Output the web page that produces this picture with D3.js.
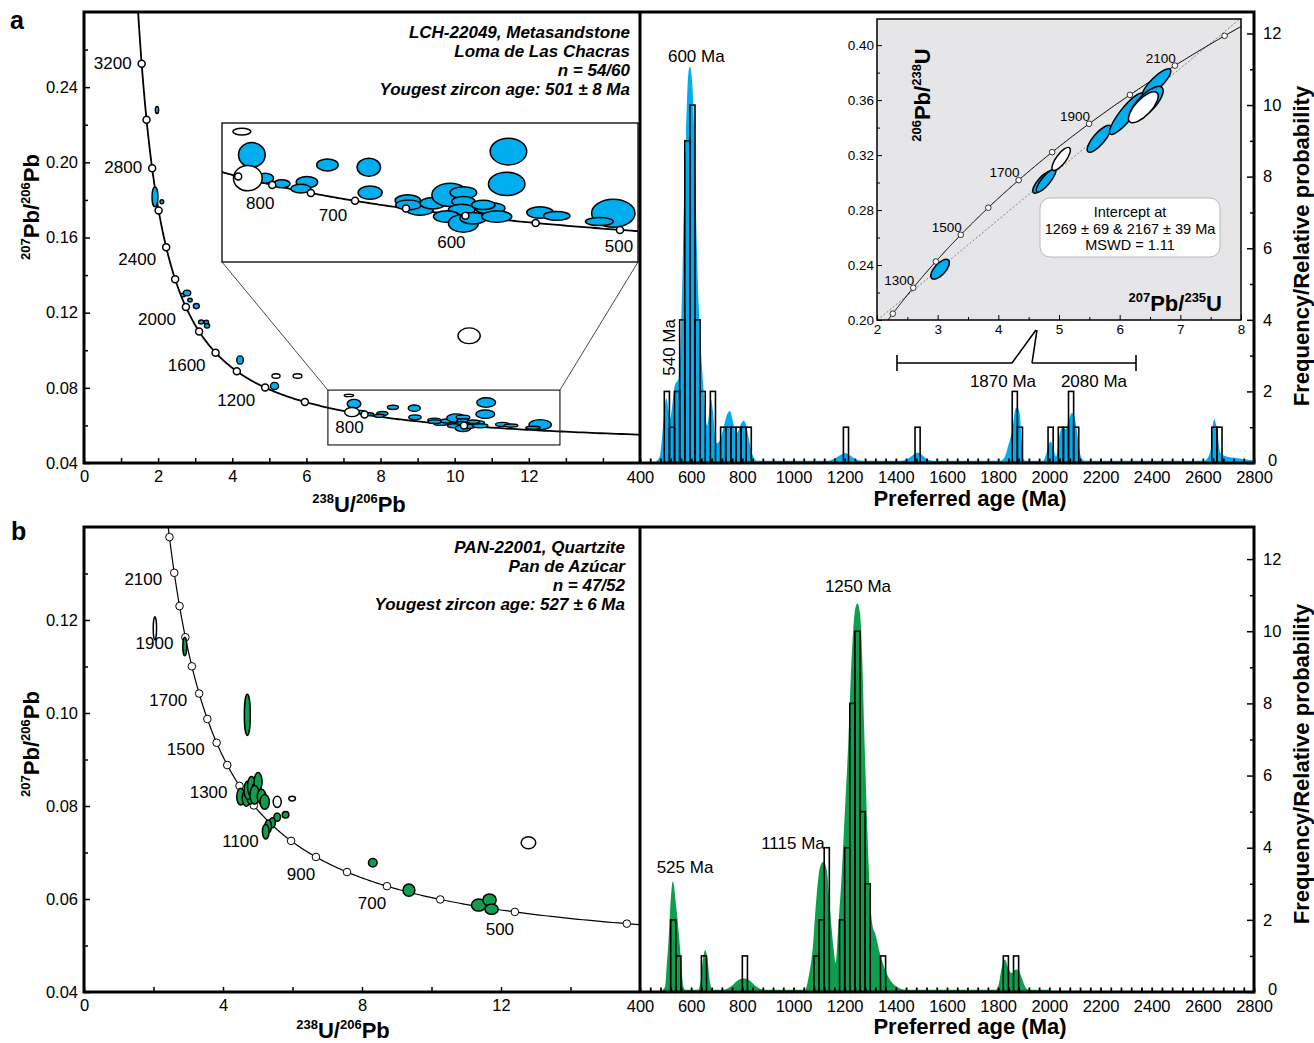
<!DOCTYPE html>
<html>
<head>
<meta charset="utf-8">
<title>U-Pb concordia and detrital zircon ages</title>
<script src="https://cdn.jsdelivr.net/npm/d3@7"></script>
<style>
  body { margin: 0; background: #fff; }
</style>
</head>
<body>
<div id="chart"></div>
<script>
const FONT = '"Liberation Sans", Arial, Helvetica, sans-serif';
const BLUE = "#00aeef";
const GREEN = "#0e9f4e";

// decay constants (1/Ma) and present-day 238U/235U
const L238 = 1.55125e-4, L235 = 9.8485e-4, U85 = 137.88;

const sampleA = ["LCH-22049, Metasandstone", "Loma de Las Chacras", "n = 54/60", "Yougest zircon age: 501 ± 8 Ma"];
const sampleB = ["PAN-22001, Quartzite", "Pan de Azúcar", "n = 47/52", "Yougest zircon age: 527 ± 6 Ma"];

// Tera-Wasserburg ellipses: [238U/206Pb, 207Pb/206Pb, half-width x, half-width y, concordant]
const ellA = [
  [1.97, 0.2279, 0.045, 0.0019, 1], [1.915, 0.1816, 0.08, 0.0053, 1], [2.10, 0.1790, 0.05, 0.0011, 1],
  [2.67, 0.1294, 0.06, 0.0010, 1], [2.78, 0.1305, 0.10, 0.0015, 1], [2.86, 0.1267, 0.06, 0.0010, 1],
  [3.03, 0.1235, 0.08, 0.0014, 1], [3.16, 0.1150, 0.07, 0.0011, 1], [3.30, 0.1150, 0.06, 0.0010, 1],
  [3.32, 0.1130, 0.07, 0.0012, 1], [4.21, 0.0948, 0.09, 0.0022, 1], [5.14, 0.0810, 0.11, 0.0019, 1],
  [5.18, 0.0863, 0.11, 0.0012, 0], [5.76, 0.0863, 0.12, 0.0012, 0], [10.39, 0.1077, 0.30, 0.0042, 0]
];
// the ones inside the zoom box (shown in the enlarged inset too)
const ellAzoom = [
  [7.146, 0.07596, 0.125, 0.00063, 0], [7.285, 0.07152, 0.185, 0.00235, 1],
  [7.47, 0.06708, 0.116, 0.00095, 1], [7.229, 0.06708, 0.199, 0.00242, 0],
  [7.70, 0.0660, 0.116, 0.00076, 1], [8.05, 0.06631, 0.149, 0.00109, 1],
  [7.965, 0.06509, 0.139, 0.00082, 1], [8.335, 0.06961, 0.149, 0.00114, 1],
  [8.91, 0.06917, 0.163, 0.00172, 1], [8.928, 0.06433, 0.167, 0.00128, 1],
  [9.451, 0.06281, 0.176, 0.00109, 1], [9.62, 0.06103, 0.185, 0.00101, 1],
  [9.46, 0.06199, 0.176, 0.00095, 1], [9.798, 0.06231, 0.176, 0.00109, 1],
  [10.04, 0.06389, 0.254, 0.00223, 1], [10.224, 0.06433, 0.185, 0.00114, 1],
  [10.224, 0.06262, 0.163, 0.00095, 1], [10.20, 0.06103, 0.185, 0.00109, 1],
  [9.993, 0.05976, 0.185, 0.00109, 1], [10.224, 0.05850, 0.208, 0.00172, 1],
  [10.36, 0.05945, 0.185, 0.00109, 1], [10.594, 0.06136, 0.208, 0.00109, 1],
  [10.688, 0.05976, 0.208, 0.00109, 1], [10.50, 0.06199, 0.163, 0.00089, 1],
  [10.85, 0.07215, 0.254, 0.00254, 1], [10.826, 0.06599, 0.254, 0.00223, 1],
  [11.289, 0.06052, 0.185, 0.00109, 1], [11.52, 0.05989, 0.185, 0.00083, 1],
  [12.307, 0.06040, 0.301, 0.00267, 1], [12.113, 0.05880, 0.194, 0.00076, 1]
];
const ellB = [
  [2.04, 0.1182, 0.048, 0.0025, 0], [2.90, 0.1143, 0.057, 0.0020, 1], [4.70, 0.0996, 0.086, 0.00445, 1],
  [4.51, 0.0820, 0.115, 0.0018, 1], [4.67, 0.0817, 0.115, 0.0018, 1], [4.79, 0.0824, 0.115, 0.0020, 1],
  [4.72, 0.0834, 0.115, 0.0020, 1], [4.82, 0.0842, 0.115, 0.00215, 1], [4.96, 0.0831, 0.134, 0.00215, 1],
  [5.01, 0.0852, 0.115, 0.0020, 1], [4.91, 0.0824, 0.134, 0.0020, 1], [5.11, 0.0820, 0.125, 0.0016, 1],
  [5.20, 0.0809, 0.134, 0.0016, 1], [5.56, 0.0809, 0.115, 0.0012, 0], [5.99, 0.0816, 0.095, 0.0005, 0],
  [5.80, 0.0781, 0.095, 0.0007, 1], [5.56, 0.0776, 0.095, 0.0009, 1], [5.42, 0.0764, 0.086, 0.0011, 1],
  [5.30, 0.0756, 0.095, 0.0014, 1], [5.23, 0.0745, 0.095, 0.0016, 1], [8.31, 0.0678, 0.124, 0.0009, 1],
  [9.35, 0.0619, 0.172, 0.0013, 1], [11.36, 0.0587, 0.21, 0.0013, 1], [11.67, 0.0598, 0.19, 0.0013, 1],
  [11.73, 0.0578, 0.19, 0.0011, 1], [12.79, 0.0721, 0.21, 0.0013, 0]
];
// Wetherill ellipses: long-axis end points [x1, y1, x2, y2], minor/major ratio, concordant
const ellW = [
  [2.903, 0.2303, 3.177, 0.2436, 0.45, 1],
  [4.579, 0.2926, 4.882, 0.3079, 0.35, 1],
  [4.635, 0.2933, 4.937, 0.3096, 0.30, 1],
  [4.899, 0.3091, 5.173, 0.3253, 0.35, 0],
  [5.477, 0.3224, 5.845, 0.3413, 0.33, 1],
  [5.845, 0.3353, 6.384, 0.3649, 0.25, 1],
  [6.384, 0.3629, 6.835, 0.3823, 0.30, 1],
  [6.175, 0.3455, 6.698, 0.3692, 0.38, 1],
  [6.165, 0.3442, 6.616, 0.3653, 0.40, 0]
];
const intercepts = [1269, 2167];

const concTicksA = [600, 800, 1000, 1200, 1400, 1600, 1800, 2000, 2200, 2400, 2600, 2800, 3000, 3200];
const concLabelsA = [3200, 2800, 2400, 2000, 1600, 1200, 800];
const concTicksZoom = [500, 550, 600, 650, 700, 750, 800, 850];
const concLabelsZoom = [800, 700, 600, 500];
const concTicksW = [1200, 1300, 1400, 1500, 1600, 1700, 1800, 1900, 2000, 2100, 2200];
const concLabelsW = [1300, 1500, 1700, 1900, 2100];
const concTicksB = [400, 500, 600, 700, 800, 900, 1000, 1100, 1200, 1300, 1400, 1500, 1600, 1700, 1800, 1900, 2000, 2100, 2200];
const concLabelsB = [2100, 1900, 1700, 1500, 1300, 1100, 900, 700, 500];

// histograms (20 Ma bins) and probability curves [age, value]
const binWidth = 20;
const histAStart = [495, 515, 535, 555, 575, 595, 615, 635, 675, 715, 735, 755, 775, 795, 815, 1195, 1475, 1855, 1875, 1995, 2035, 2055, 2075, 2095, 2635, 2655];
const histACount = [2, 1, 2, 4, 9, 10, 4, 2, 2, 1, 1, 1, 1, 1, 1, 1, 1, 2, 1, 1, 1, 1, 2, 1, 1, 1];
const pdpA = [
  [465, 0.06], [478, 0.2], [486, 0.7], [493, 1.3], [499, 1.7], [504, 1.8], [511, 1.5], [518, 1.25], [526, 1.6],
  [534, 2.1], [541, 2.25], [548, 2.3], [554, 2.45], [560, 3.6], [566, 5.3], [572, 7.3], [580, 9.2], [588, 10.8],
  [595, 11.07], [602, 10.8], [608, 10.1], [615, 8.3], [624, 5.5], [635, 3.6], [647, 2.2], [656, 1.3], [663, 1.05],
  [670, 1.4], [677, 1.78], [685, 1.45], [693, 0.8], [700, 0.55], [710, 0.6], [725, 0.95], [740, 1.35], [752, 1.45],
  [762, 1.2], [772, 0.9], [780, 0.85], [792, 1.05], [805, 1.18], [815, 1.05], [825, 0.7], [835, 0.35], [845, 0.15],
  [858, 0.06], [1130, 0.06], [1160, 0.12], [1185, 0.23], [1202, 0.28], [1220, 0.22], [1245, 0.1], [1270, 0.06],
  [1420, 0.06], [1450, 0.13], [1472, 0.25], [1485, 0.29], [1500, 0.24], [1520, 0.12], [1550, 0.06],
  [1810, 0.06], [1828, 0.2], [1840, 0.5], [1850, 0.75], [1858, 1.05], [1866, 1.48], [1874, 1.56], [1884, 1.4],
  [1891, 0.7], [1898, 0.12], [1908, 0.06], [1975, 0.06], [1990, 0.3], [1999, 0.55], [2006, 0.6], [2016, 0.4],
  [2027, 0.18], [2036, 0.6], [2044, 0.92], [2053, 1.0], [2064, 0.95], [2076, 1.2], [2088, 1.4], [2098, 1.3],
  [2108, 0.9], [2117, 0.4], [2127, 0.12], [2140, 0.06], [2605, 0.06], [2622, 0.18], [2632, 0.45], [2639, 1.05],
  [2645, 1.22], [2651, 1.1], [2657, 0.9], [2667, 0.3], [2680, 0.22], [2693, 0.18], [2730, 0.14], [2770, 0.1],
  [2800, 0.08]
];
const histBStart = [520, 540, 640, 800, 1080, 1100, 1120, 1180, 1200, 1220, 1240, 1260, 1280, 1340, 1820, 1860];
const histBCount = [2, 1, 1, 1, 1, 2, 4, 2, 4, 8, 10, 5, 3, 1, 1, 1];
const pdpB = [
  [488, 0.06], [498, 0.15], [505, 0.8], [511, 1.35], [518, 2.3], [524, 2.9], [528, 3.06], [533, 2.95], [538, 2.6],
  [543, 2.27], [550, 1.75], [556, 1.26], [563, 0.6], [569, 0.15], [578, 0.06], [628, 0.06], [638, 0.35], [646, 0.9],
  [655, 1.16], [664, 0.9], [672, 0.35], [682, 0.06], [725, 0.06], [755, 0.15], [782, 0.32], [805, 0.38],
  [828, 0.32], [855, 0.15], [885, 0.06], [1045, 0.06], [1060, 0.45], [1070, 0.9], [1077, 1.35], [1084, 2.1],
  [1091, 2.73], [1104, 3.47], [1117, 3.61], [1130, 3.38], [1143, 2.27], [1156, 1.26], [1165, 0.8], [1175, 1.81],
  [1188, 3.2], [1201, 5.04], [1214, 6.89], [1224, 8.74], [1234, 10.1], [1243, 10.68], [1250, 10.77], [1260, 10.5],
  [1269, 9.2], [1276, 7.35], [1284, 5.5], [1293, 3.66], [1302, 2.27], [1310, 1.8], [1319, 1.63], [1338, 1.07],
  [1364, 0.52], [1403, 0.15], [1440, 0.06], [1790, 0.06], [1802, 0.2], [1812, 0.6], [1826, 0.9], [1840, 0.65],
  [1853, 0.52], [1866, 0.62], [1879, 0.61], [1892, 0.4], [1905, 0.15], [1918, 0.06], [2003, 0.06]
];
const ageTicks = [400, 600, 800, 1000, 1200, 1400, 1600, 1800, 2000, 2200, 2400, 2600, 2800];
const freqTicks = [0, 2, 4, 6, 8, 10, 12];
const freqMinor = [1, 3, 5, 7, 9, 11];

// ---- helpers ----
const twPoint = t => {
  const a = Math.exp(L238 * t) - 1, b = Math.exp(L235 * t) - 1;
  return [1 / a, b / (U85 * a)];
};
const wetPoint = t => [Math.exp(L235 * t) - 1, Math.exp(L238 * t) - 1];

const svg = d3.select("#chart").append("svg")
  .attr("width", 1314).attr("height", 1043)
  .attr("font-family", FONT);
const defs = svg.append("defs");

function clip(id, x0, y0, x1, y1) {
  defs.append("clipPath").attr("id", id).append("rect")
    .attr("x", x0).attr("y", y0).attr("width", x1 - x0).attr("height", y1 - y0);
  return `url(#${id})`;
}

function styleAxis(sel, fs) {
  sel.attr("font-family", FONT).attr("font-size", fs);
  sel.select(".domain").remove();
  sel.selectAll(".tick line").attr("stroke-width", 1.5);
}

function richText(sel, parts, big, small) {
  let up = false;
  parts.forEach(([s, sup]) => {
    const t = sel.append("tspan").text(s).attr("font-size", sup ? small : big);
    if (sup && !up) { t.attr("dy", -big * 0.42); up = true; }
    else if (!sup && up) { t.attr("dy", big * 0.42); up = false; }
  });
}

function title(g, x, y, rot, parts, anchor) {
  const t = g.append("text")
    .attr("transform", `translate(${x},${y}) rotate(${rot})`)
    .attr("text-anchor", anchor || "middle")
    .attr("font-weight", "bold");
  if (typeof parts === "string") t.attr("font-size", 22).text(parts);
  else richText(t, parts, 22, 13);
}

function concordiaTW(g, x, y, ages, width) {
  g.append("path").datum(ages)
    .attr("d", d3.line().x(t => x(twPoint(t)[0])).y(t => y(twPoint(t)[1])))
    .attr("fill", "none").attr("stroke", "#000").attr("stroke-width", width);
}

function twEllipses(g, data, x, y, fill, sw) {
  g.selectAll(null).data(data).join("ellipse")
    .attr("cx", d => x(d[0])).attr("cy", d => y(d[1]))
    .attr("rx", d => x(d[0] + d[2]) - x(d[0]))
    .attr("ry", d => y(d[1]) - y(d[1] + d[3]))
    .attr("fill", d => d[4] ? fill : "#fff")
    .attr("stroke", "#000").attr("stroke-width", sw);
}

function markers(g, ages, pos, r, sw) {
  g.selectAll(null).data(ages).join("circle")
    .attr("cx", t => pos(t)[0]).attr("cy", t => pos(t)[1]).attr("r", r)
    .attr("fill", "#fff").attr("stroke", "#000").attr("stroke-width", sw);
}

function sampleText(g, lines, x, y0) {
  g.selectAll(null).data(lines).join("text")
    .attr("x", x).attr("y", (d, i) => y0 + i * 19)
    .attr("text-anchor", "end").attr("font-size", 17)
    .attr("font-weight", "bold").attr("font-style", "italic")
    .text(d => d);
}

const xH = d3.scaleLinear().domain([400, 2800]).range([640, 1254]);

function histogram(g, y, starts, counts, pdp, color, base) {
  g.append("path").datum(pdp)
    .attr("d", d3.area().x(d => xH(d[0])).y0(y(0)).y1(d => y(d[1])).curve(d3.curveMonotoneX))
    .attr("fill", color);
  g.selectAll(null).data(starts).join("rect")
    .attr("x", d => xH(d)).attr("width", d => xH(d + binWidth) - xH(d))
    .attr("y", (d, i) => y(counts[i])).attr("height", (d, i) => y(0) - y(counts[i]))
    .attr("fill", "none").attr("stroke", "#000").attr("stroke-width", 1.6);
  // bottom age axis
  g.append("g").attr("transform", `translate(0,${base})`)
    .call(d3.axisBottom(xH).tickValues(d3.range(400, 2801, 40)).tickSize(-4.5).tickFormat(""))
    .call(styleAxis, 16.5)
    .call(s => s.selectAll(".tick line").attr("stroke-width", 1.8));
  g.append("g").attr("transform", `translate(0,${base})`)
    .call(d3.axisBottom(xH).tickValues(ageTicks).tickSize(0).tickPadding(8).tickFormat(d3.format("d")))
    .call(styleAxis, 16.5);
  // right frequency axis
  g.append("g").attr("transform", "translate(1254,0)")
    .call(d3.axisRight(y).tickValues(freqTicks).tickSize(-7).tickPadding(9))
    .call(styleAxis, 16.5)
    .call(s => s.selectAll(".tick").filter(d => d === 0).select("text").attr("x", 14).attr("y", -3));
  g.append("g").attr("transform", "translate(1254,0)")
    .call(d3.axisRight(y).tickValues(freqMinor).tickSize(-4).tickFormat(""))
    .call(styleAxis, 16.5);
}

function peakLabel(g, x, y, txt) {
  g.append("text").attr("x", x).attr("y", y).attr("text-anchor", "middle")
    .attr("font-size", 17).text(txt);
}

// ================= PANEL a =================
const gA = svg.append("g");
const xA = d3.scaleLinear().domain([0, 15]).range([84, 640]);
const yA = d3.scaleLinear().domain([0.04, 0.28]).range([463, 12]);
const curveAges = d3.range(250, 4000, 4);

const plotA = gA.append("g").attr("clip-path", clip("clipA", 84, 12, 640, 463));
concordiaTW(plotA, xA, yA, curveAges, 1.8);
twEllipses(plotA, ellA.concat(ellAzoom), xA, yA, BLUE, 1.4);
const posA = t => [xA(twPoint(t)[0]), yA(twPoint(t)[1])];
markers(plotA, concTicksA, posA, 3.5, 1.5);
plotA.selectAll(null).data(concLabelsA).join("text")
  .attr("x", t => posA(t)[0] + (t >= 1000 ? -10 : -15))
  .attr("y", t => posA(t)[1] + (t >= 2800 ? 5 : 18))
  .attr("text-anchor", t => t >= 1000 ? "end" : "middle")
  .attr("font-size", 17).text(t => t);

// zoom box and enlarged inset
const boxX = [6.58, 12.84], boxY = [0.0496, 0.0788];
const xZ = d3.scaleLinear().domain([6.87, 12.65]).range([222, 638]);
const yZ = d3.scaleLinear().domain([0.0511, 0.0776]).range([262, 123]);
gA.append("rect")
  .attr("x", xA(boxX[0])).attr("y", yA(boxY[1]))
  .attr("width", xA(boxX[1]) - xA(boxX[0])).attr("height", yA(boxY[0]) - yA(boxY[1]))
  .attr("fill", "none").attr("stroke", "#222").attr("stroke-width", 1.2);
gA.append("path")
  .attr("d", `M${xA(boxX[0])},${yA(boxY[1])}L${xZ.range()[0]},${yZ.range()[0]}` +
             `M${xA(boxX[1])},${yA(boxY[1])}L${xZ.range()[1]},${yZ.range()[0]}`)
  .attr("stroke", "#333").attr("stroke-width", 0.9).attr("fill", "none");
gA.append("rect").attr("x", 222).attr("y", 123).attr("width", 416).attr("height", 139)
  .attr("fill", "#fff");
const plotZ = gA.append("g").attr("clip-path", clip("clipZ", 222, 123, 638, 262));
concordiaTW(plotZ, xZ, yZ, d3.range(300, 1200, 2), 1.8);
twEllipses(plotZ, ellAzoom, xZ, yZ, BLUE, 1.5);
const posZ = t => [xZ(twPoint(t)[0]), yZ(twPoint(t)[1])];
markers(plotZ, concTicksZoom, posZ, 3.5, 1.5);
const zoomLabelOff = { 800: [-12, 24], 700: [-22, 20], 600: [-14, 32], 500: [-1, 22] };
plotZ.selectAll(null).data(concLabelsZoom).join("text")
  .attr("x", t => posZ(t)[0] + zoomLabelOff[t][0])
  .attr("y", t => posZ(t)[1] + zoomLabelOff[t][1])
  .attr("text-anchor", "middle").attr("font-size", 17).text(t => t);
gA.append("rect").attr("x", 222).attr("y", 123).attr("width", 416).attr("height", 139)
  .attr("fill", "none").attr("stroke", "#000").attr("stroke-width", 1.3);

sampleText(gA, sampleA, 630, 38);

// TW axes a
gA.append("g").attr("transform", "translate(84,0)")
  .call(d3.axisLeft(yA).tickValues([0.04, 0.08, 0.12, 0.16, 0.20, 0.24]).tickSize(-6).tickPadding(6).tickFormat(d3.format(".2f")))
  .call(styleAxis, 16.5);
gA.append("g").attr("transform", "translate(84,0)")
  .call(d3.axisLeft(yA).tickValues([0.06, 0.10, 0.14, 0.18, 0.22, 0.26]).tickSize(-4).tickFormat(""))
  .call(styleAxis, 16.5);
gA.append("g").attr("transform", "translate(0,463)")
  .call(d3.axisBottom(xA).tickValues([0, 2, 4, 6, 8, 10, 12]).tickSize(-5).tickPadding(7))
  .call(styleAxis, 16.5);
gA.append("g").attr("transform", "translate(0,463)")
  .call(d3.axisBottom(xA).tickValues([1, 3, 5, 7, 9, 11, 13, 14]).tickSize(-5).tickFormat(""))
  .call(styleAxis, 16.5);

// histogram a
const yHA = d3.scaleLinear().domain([0, 12.6]).range([463, 12]);
histogram(gA, yHA, histAStart, histACount, pdpA, BLUE, 463);
peakLabel(gA, xH(620), yHA(11.2), "600 Ma");
gA.append("text").attr("transform", `translate(${xH(515) + 6},${yHA(3.23)}) rotate(-90)`)
  .attr("text-anchor", "middle").attr("font-size", 17).text("540 Ma");
peakLabel(gA, 1003, 387, "1870 Ma");
peakLabel(gA, 1094, 387, "2080 Ma");

// Wetherill inset
const xW = d3.scaleLinear().domain([2, 8]).range([877, 1241]);
const yW = d3.scaleLinear().domain([0.2, 0.419]).range([320, 19]);
gA.append("rect").attr("x", 877).attr("y", 19).attr("width", 364).attr("height", 301)
  .attr("fill", "#e6e6e8");
const plotW = gA.append("g").attr("clip-path", clip("clipW", 877, 19, 1241, 320));
const pL = wetPoint(intercepts[0]), pU = wetPoint(intercepts[1]);
const slope = (pU[1] - pL[1]) / (pU[0] - pL[0]);
plotW.append("line")
  .attr("x1", xW(1.5)).attr("y1", yW(pL[1] + (1.5 - pL[0]) * slope))
  .attr("x2", xW(8.5)).attr("y2", yW(pL[1] + (8.5 - pL[0]) * slope))
  .attr("stroke", "#666").attr("stroke-width", 0.8).attr("stroke-dasharray", "2,2");
plotW.append("path").datum(d3.range(1000, 2400, 4))
  .attr("d", d3.line().x(t => xW(wetPoint(t)[0])).y(t => yW(wetPoint(t)[1])))
  .attr("fill", "none").attr("stroke", "#000").attr("stroke-width", 1);
plotW.selectAll(null).data(ellW).join("ellipse")
  .each(function (d) {
    const x1 = xW(d[0]), y1 = yW(d[1]), x2 = xW(d[2]), y2 = yW(d[3]);
    const len = Math.hypot(x2 - x1, y2 - y1) / 2;
    const ang = Math.atan2(y2 - y1, x2 - x1) * 180 / Math.PI;
    d3.select(this)
      .attr("transform", `translate(${(x1 + x2) / 2},${(y1 + y2) / 2}) rotate(${ang})`)
      .attr("rx", len).attr("ry", len * d[4]);
  })
  .attr("fill", d => d[5] ? BLUE : "#fff")
  .attr("stroke", "#000").attr("stroke-width", 1.5);
const posW = t => [xW(wetPoint(t)[0]), yW(wetPoint(t)[1])];
markers(plotW, concTicksW, posW, 2.8, 0.8);
plotW.selectAll(null).data(concLabelsW).join("text")
  .attr("x", t => posW(t)[0] + 1).attr("y", t => posW(t)[1] - 3)
  .attr("text-anchor", "end").attr("font-size", 13.5).text(t => t);
gA.append("rect").attr("x", 1040).attr("y", 198).attr("width", 180).attr("height", 59)
  .attr("rx", 10).attr("fill", "#fff").attr("stroke", "#aaa").attr("stroke-width", 0.8);
gA.selectAll(null).data(["Intercept at", "1269 ± 69 & 2167 ± 39 Ma", "MSWD = 1.11"]).join("text")
  .attr("x", 1130).attr("y", (d, i) => 217 + i * 16.5)
  .attr("text-anchor", "middle").attr("font-size", 14.5).text(d => d);
gA.append("g").attr("transform", "translate(877,0)")
  .call(d3.axisLeft(yW).tickValues([0.20, 0.24, 0.28, 0.32, 0.36, 0.40]).tickSize(-5).tickPadding(3).tickFormat(d3.format(".2f")))
  .call(styleAxis, 13.5).call(s => s.selectAll(".tick line").attr("stroke-width", 1));
gA.append("g").attr("transform", "translate(877,0)")
  .call(d3.axisLeft(yW).tickValues([0.22, 0.26, 0.30, 0.34, 0.38]).tickSize(-3).tickFormat(""))
  .call(styleAxis, 13.5).call(s => s.selectAll(".tick line").attr("stroke-width", 1));
gA.append("g").attr("transform", "translate(0,320)")
  .call(d3.axisBottom(xW).tickValues([2, 3, 4, 5, 6, 7, 8]).tickSize(-5).tickPadding(4).tickFormat(d3.format("d")))
  .call(styleAxis, 13.5).call(s => s.selectAll(".tick line").attr("stroke-width", 1));
gA.append("g").attr("transform", "translate(0,320)")
  .call(d3.axisBottom(xW).tickValues([2.5, 3.5, 4.5, 5.5, 6.5, 7.5]).tickSize(-3).tickFormat(""))
  .call(styleAxis, 13.5).call(s => s.selectAll(".tick line").attr("stroke-width", 1));
gA.append("rect").attr("x", 877).attr("y", 19).attr("width", 364).attr("height", 301)
  .attr("fill", "none").attr("stroke", "#000").attr("stroke-width", 1.5);
title(gA, 930, 95, -90, [["206", 1], ["Pb/", 0], ["238", 1], ["U", 0]]);
title(gA, 1222, 311, 0, [["207", 1], ["Pb/", 0], ["235", 1], ["U", 0]], "end");
// bracket linking inset to the age axis
gA.append("path")
  .attr("d", "M897,355V371M897,363H1012L1036,330M1032,363L1037,330M1032,363H1136M1136,355V371")
  .attr("fill", "none").attr("stroke", "#000").attr("stroke-width", 1.6);

// frame a
gA.append("path").attr("d", "M84,12H1254V463H84ZM640,12V463")
  .attr("fill", "none").attr("stroke", "#000").attr("stroke-width", 3);
title(gA, 39, 207, -90, [["207", 1], ["Pb/", 0], ["206", 1], ["Pb", 0]]);
title(gA, 359, 512, 0, [["238", 1], ["U/", 0], ["206", 1], ["Pb", 0]]);
title(gA, 970, 506, 0, "Preferred age (Ma)");
title(gA, 1309, 246, -90, "Frequency/Relative probability");
gA.append("text").attr("x", 10).attr("y", 29).attr("font-size", 25).attr("font-weight", "bold").text("a");

// ================= PANEL b =================
const gB = svg.append("g");
const xB = d3.scaleLinear().domain([0, 16]).range([84, 640]);
const yB = d3.scaleLinear().domain([0.04, 0.14]).range([992, 527]);
const plotB = gB.append("g").attr("clip-path", clip("clipB", 84, 527, 640, 992));
concordiaTW(plotB, xB, yB, curveAges, 1.2);
const posB = t => [xB(twPoint(t)[0]), yB(twPoint(t)[1])];
markers(plotB, concTicksB, posB, 3.8, 1);
twEllipses(plotB, ellB, xB, yB, GREEN, 1.5);
plotB.selectAll(null).data(concLabelsB).join("text")
  .attr("x", t => posB(t)[0] + (t >= 1100 ? -12 : -15))
  .attr("y", t => posB(t)[1] + (t >= 1300 ? 12 : 23))
  .attr("text-anchor", t => t >= 1100 ? "end" : "middle")
  .attr("font-size", 17).text(t => t);
sampleText(gB, sampleB, 625, 553);

gB.append("g").attr("transform", "translate(84,0)")
  .call(d3.axisLeft(yB).tickValues([0.04, 0.06, 0.08, 0.10, 0.12]).tickSize(-6).tickPadding(6).tickFormat(d3.format(".2f")))
  .call(styleAxis, 16.5);
gB.append("g").attr("transform", "translate(84,0)")
  .call(d3.axisLeft(yB).tickValues([0.05, 0.07, 0.09, 0.11, 0.13]).tickSize(-4).tickFormat(""))
  .call(styleAxis, 16.5);
gB.append("g").attr("transform", "translate(0,992)")
  .call(d3.axisBottom(xB).tickValues([0, 4, 8, 12]).tickSize(-5).tickPadding(7))
  .call(styleAxis, 16.5);
gB.append("g").attr("transform", "translate(0,992)")
  .call(d3.axisBottom(xB).tickValues([2, 6, 10, 14]).tickSize(-5).tickFormat(""))
  .call(styleAxis, 16.5);

const yHB = d3.scaleLinear().domain([0, 12.89]).range([992, 527]);
histogram(gB, yHB, histBStart, histBCount, pdpB, GREEN, 992);
peakLabel(gB, 858, 592, "1250 Ma");
peakLabel(gB, 793, 849, "1115 Ma");
peakLabel(gB, 685, 873, "525 Ma");

gB.append("path").attr("d", "M84,527H1254V992H84ZM640,527V992")
  .attr("fill", "none").attr("stroke", "#000").attr("stroke-width", 3);
title(gB, 39, 744, -90, [["207", 1], ["Pb/", 0], ["206", 1], ["Pb", 0]]);
title(gB, 343, 1038, 0, [["238", 1], ["U/", 0], ["206", 1], ["Pb", 0]]);
title(gB, 970, 1034, 0, "Preferred age (Ma)");
title(gB, 1309, 764, -90, "Frequency/Relative probability");
gB.append("text").attr("x", 11).attr("y", 540).attr("font-size", 25).attr("font-weight", "bold").text("b");
</script>
</body>
</html>
